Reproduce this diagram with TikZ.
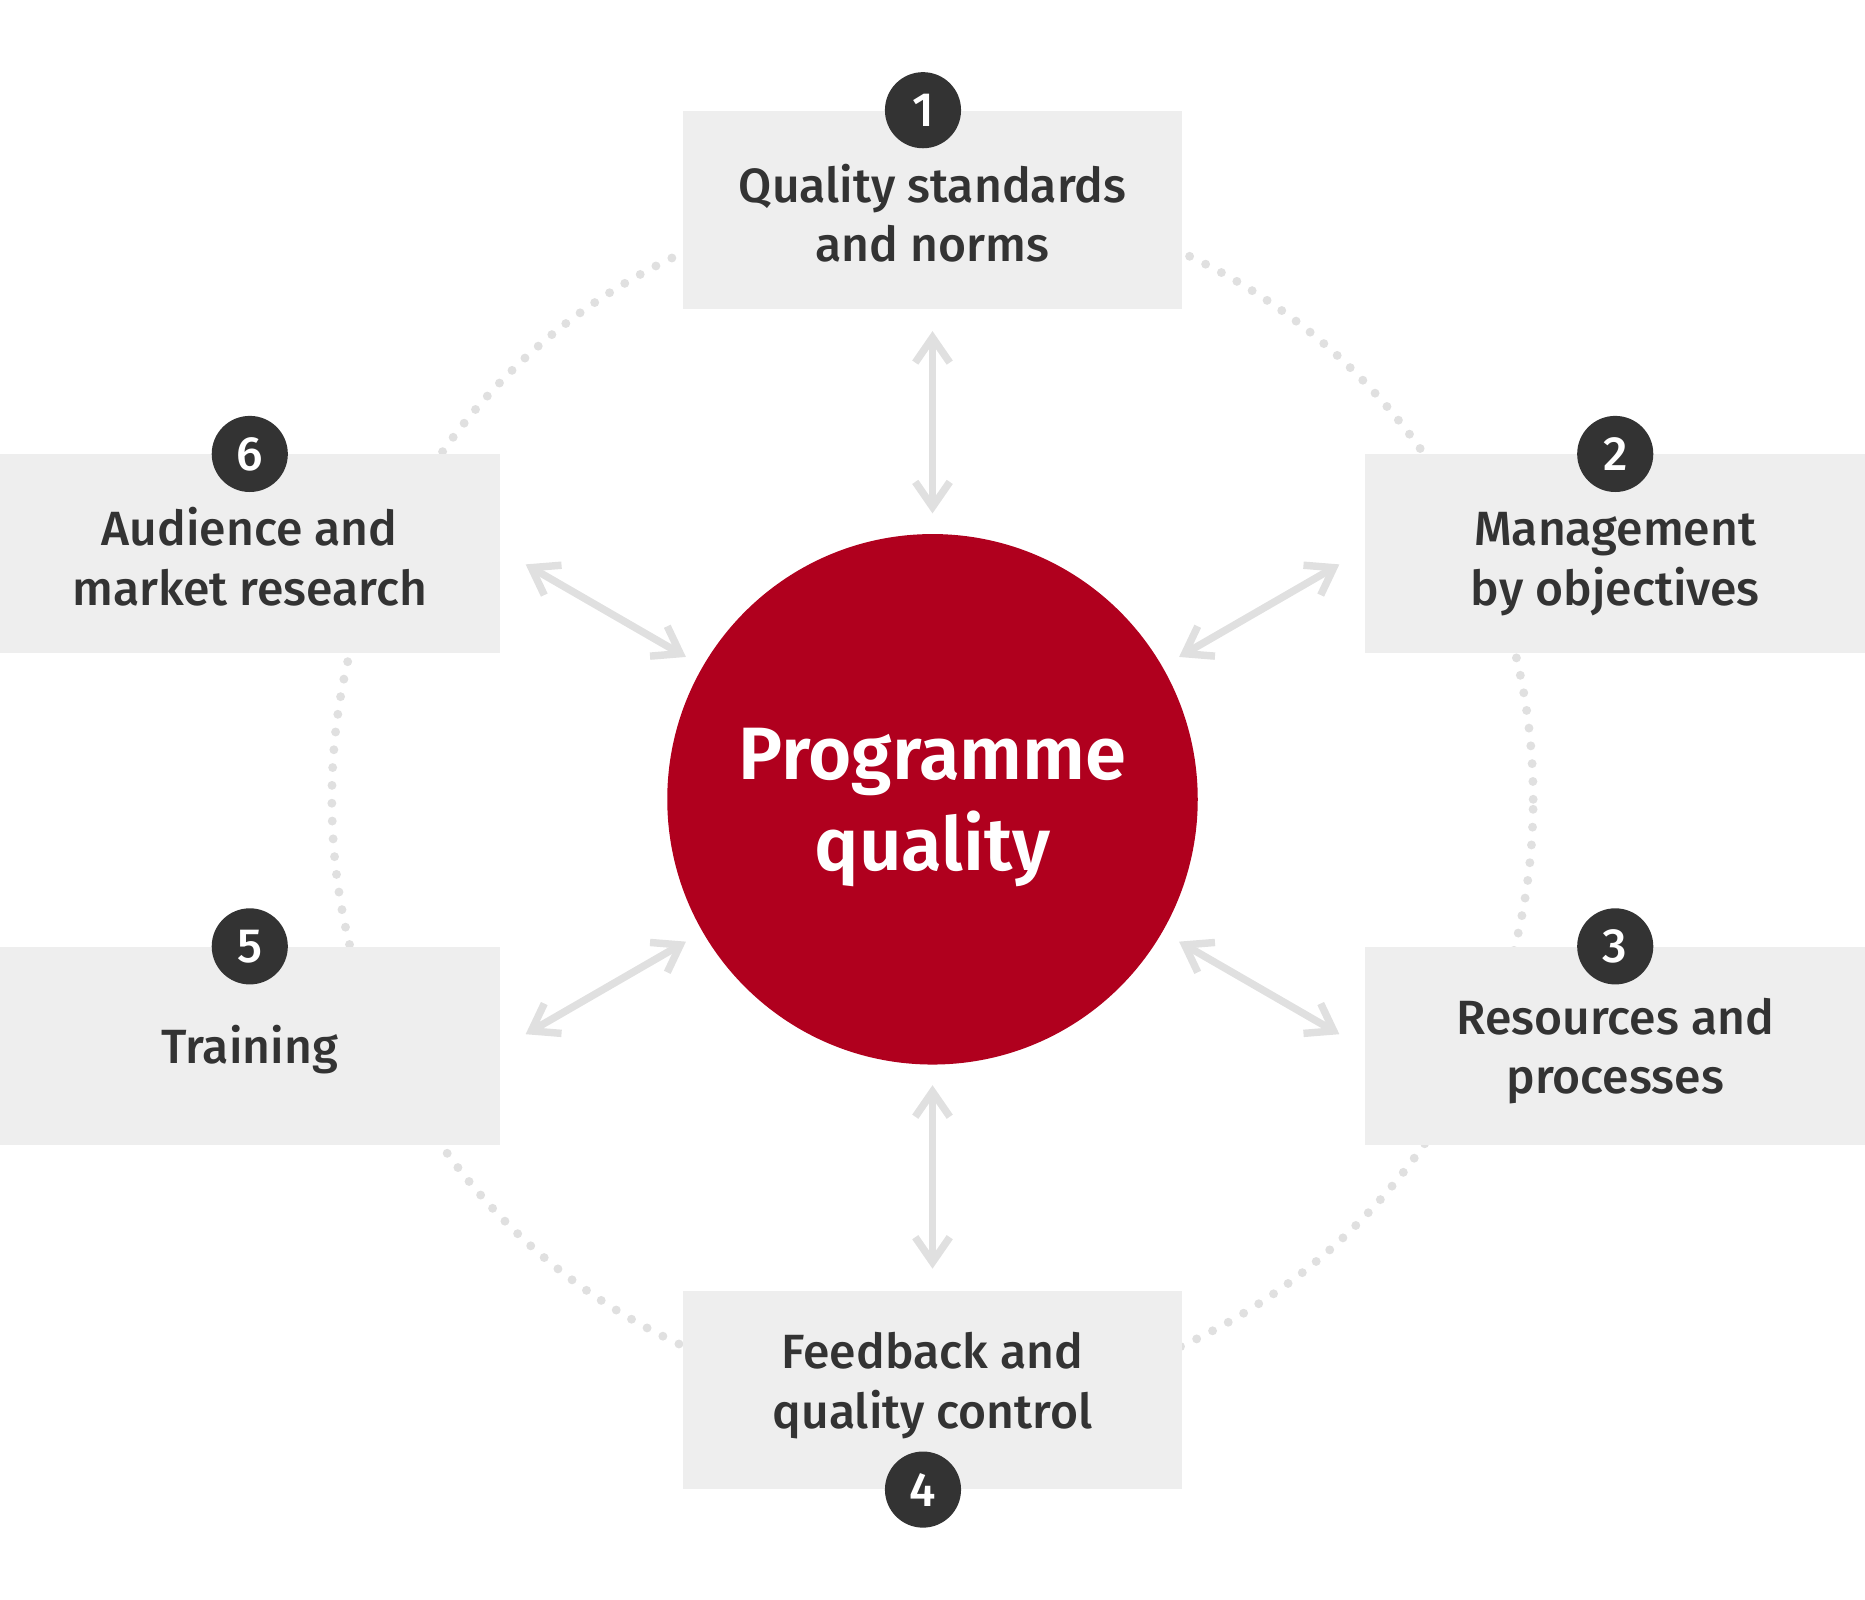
\documentclass[tikz,border=0pt]{standalone}
\usepackage{fontspec}
\setmainfont{Fira Sans}[UprightFont=* Medium,BoldFont=* SemiBold]
\usetikzlibrary{arrows.meta}
\usepackage{xcolor}
\definecolor{ColRed}{HTML}{B0001E}
\definecolor{ColBox}{HTML}{EEEEEE}
\definecolor{ColInk}{HTML}{333333}
\definecolor{ColLink}{HTML}{E0E0E0}
\tikzstyle{TopicBox}=[rectangle,fill=ColBox,minimum width=84mm,minimum height=33.4mm,inner sep=0pt,
align=center,text=ColInk,font=\fontsize{23}{28.5}\selectfont,text height=49.5pt,text depth=0pt]
\tikzstyle{Badge}=[circle,fill=ColInk,text=white,minimum size=12.8mm,inner sep=0pt,
font=\fontsize{23}{28}\selectfont]
\tikzstyle{Core}=[circle,fill=ColRed,text=white,minimum size=89.2mm,inner sep=0pt,align=center,
text depth=0pt,font=\bfseries\fontsize{35.5}{43.5}\selectfont]
\tikzstyle{Link}=[ColLink,line width=1.25mm,{Straight Barb[sharp,length=4.2mm,width=5.8mm]}-{Straight Barb[sharp,length=4.2mm,width=5.8mm]}]
\tikzstyle{Ring}=[ColLink,line width=1.5mm,line cap=round,dash pattern=on 0pt off 3mm]

\begin{document}
\begin{tikzpicture}[x=0.2mm,y=0.2mm]
        \useasboundingbox(0,0)rectangle(1568,-1345);
        \node[Core](pq)at(784,-672){Programme\\quality};
        \draw[Ring](pq.center)circle(505);
        \node[TopicBox](q1)at(784,-176.5){Quality standards\\and norms};
        \node[TopicBox](q2)at(1358,-465.5){Management\\by objectives};
        \node[TopicBox,text depth=4pt](q3)at(1358,-879.5){Resources and\\processes};
        \node[TopicBox,text depth=13pt](q4)at(784,-1168.5){Feedback and\\quality control};
        \node[TopicBox,text height=21.5pt,text depth=5pt](q5)at(210,-879.5){Training};
        \node[TopicBox](q6)at(210,-465.5){Audience and\\market research};
        \node[Badge](n1)at([xshift=-1.6mm]q1.north){1};
        \node[Badge](n2)at(q2.north){2};
        \node[Badge](n3)at(q3.north){3};
        \node[Badge](n4)at([xshift=-1.6mm]q4.south){4};
        \node[Badge](n5)at(q5.north){5};
        \node[Badge](n6)at(q6.north){6};
        \path(pq.center)++(30:395)coordinate(a2);
        \path(pq.center)++(-30:395)coordinate(a3);
        \path(pq.center)++(-150:395)coordinate(a5);
        \path(pq.center)++(150:395)coordinate(a6);
        \draw[Link,shorten <=3.6mm,shorten >=3.4mm](q1.south)--(pq.north);
        \draw[Link,shorten <=3.4mm,shorten >=3.6mm](pq.south)--(q4.north);
        \draw[Link,shorten >=3.2mm](a2)--(pq.30);
        \draw[Link,shorten >=3.2mm](a3)--(pq.-30);
        \draw[Link,shorten >=3.2mm](a5)--(pq.-150);
        \draw[Link,shorten >=3.2mm](a6)--(pq.150);
    \end{tikzpicture}
\end{document}
